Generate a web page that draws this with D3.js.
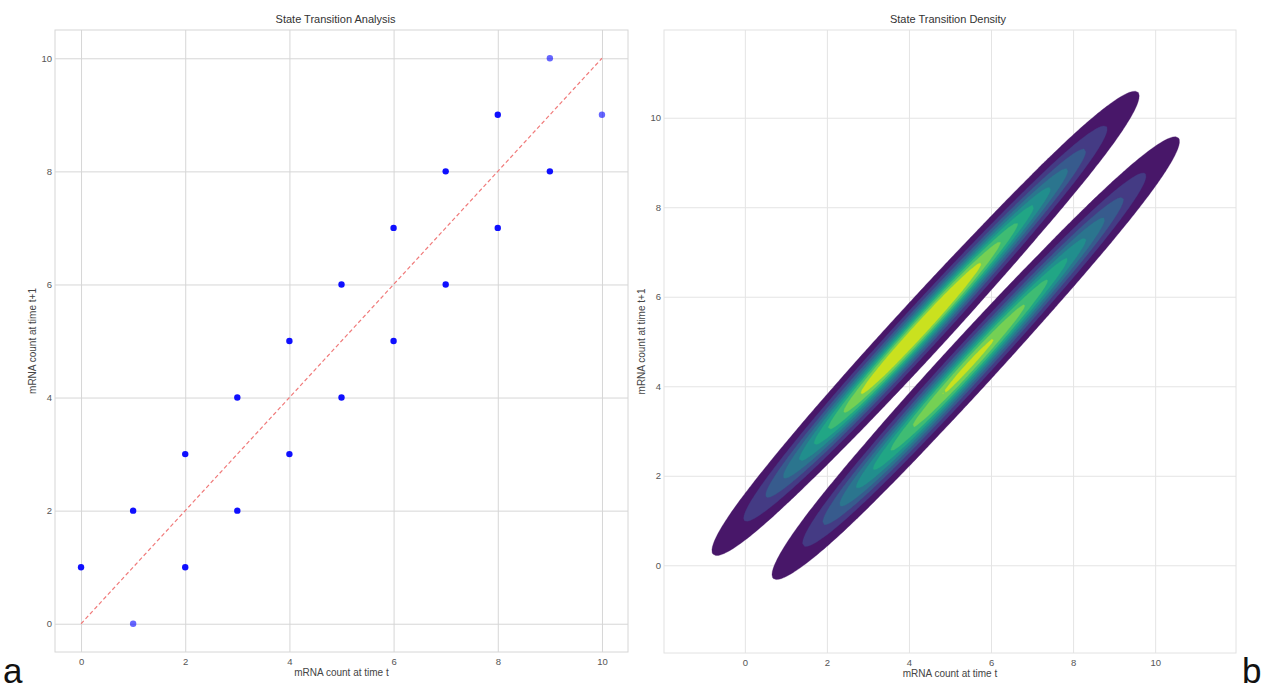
<!DOCTYPE html>
<html><head><meta charset="utf-8">
<script src="https://cdn.jsdelivr.net/npm/d3@7"></script>
<style>
body{margin:0;background:#fff}
svg{display:block}
text{font-family:"Liberation Sans",Arial,sans-serif}
</style>
</head><body>
<svg id="c" width="1271" height="691"></svg>
<script>
// ---- data ----
// up-transitions: state t -> state t+1
const upFrom  = [0, 1, 2, 3, 4, 5, 6, 7, 8, 9];
const upTo    = [1, 2, 3, 4, 5, 6, 7, 8, 9, 10];
// down-transitions: state t -> state t-1
const downFrom  = [1, 2, 3, 4, 5, 6, 7, 8, 9, 10];
const downTo    = [0, 1, 2, 3, 4, 5, 6, 7, 8, 9];
// occurrences shown in the scatter (1 = single, lighter dot)
const scatterUpCount   = [3, 3, 3, 3, 3, 3, 3, 3, 3, 1];
const scatterDownCount = [1, 3, 3, 3, 3, 3, 3, 3, 3, 1];
// transition counts behind the density panel
const densityUpCount   = [6, 14, 25, 35, 39, 38, 31, 22, 13, 4];
const densityDownCount = [2, 11, 21, 29, 34, 34, 28, 21, 12, 4];

const xTicks = [0, 2, 4, 6, 8, 10];
const yTicks = [0, 2, 4, 6, 8, 10];
const titles = ["State Transition Analysis", "State Transition Density"];
const xLabel = "mRNA count at time t";
const yLabel = "mRNA count at time t+1";
const panelLetters = ["a", "b"];
const diagonal = [0, 10];
const kdeLevels = 10, kdeThresh = 0.05, gridSize = 200;

// ---- build the pairs ----
const scatterPairs = [], densityPairs = [];
upFrom.forEach((t, i) => {
  scatterPairs.push({t, t1: upTo[i], n: scatterUpCount[i]});
  densityPairs.push({t, t1: upTo[i], n: densityUpCount[i]});
});
downFrom.forEach((t, i) => {
  scatterPairs.push({t, t1: downTo[i], n: scatterDownCount[i]});
  densityPairs.push({t, t1: downTo[i], n: densityDownCount[i]});
});

const svg = d3.select("#c");
const font = '"Liberation Sans",Arial,sans-serif';

function panel(cfg) {
  const g = svg.append("g");
  const x = d3.scaleLinear().domain(cfg.xd).range([cfg.l, cfg.r]);
  const y = d3.scaleLinear().domain(cfg.yd).range([cfg.b, cfg.t]);
  const clipId = "clip" + cfg.id;
  g.append("clipPath").attr("id", clipId).append("rect")
    .attr("x", cfg.l).attr("y", cfg.t).attr("width", cfg.r - cfg.l).attr("height", cfg.b - cfg.t);
  const xa = d3.axisBottom(x).tickValues(xTicks).tickSize(-(cfg.b - cfg.t)).tickPadding(6).tickFormat(d3.format("d"));
  const ya = d3.axisLeft(y).tickValues(yTicks).tickSize(-(cfg.r - cfg.l)).tickPadding(3).tickFormat(d3.format("d"));
  const gx = g.append("g").attr("transform", `translate(0,${cfg.b})`).call(xa);
  const gy = g.append("g").attr("transform", `translate(${cfg.l},0)`).call(ya);
  [gx, gy].forEach(a => {
    a.select(".domain").remove();
    a.selectAll(".tick line").attr("stroke", cfg.grid).attr("stroke-width", 1);
    a.selectAll(".tick text").attr("fill", "#555").style("font-size", "9.5px").style("font-family", font);
  });
  const plot = g.append("g").attr("clip-path", `url(#${clipId})`);
  g.append("text").attr("x", (cfg.l + cfg.r) / 2 + cfg.tdx).attr("y", cfg.t - 7).attr("text-anchor", "middle")
    .attr("fill", "#333").style("font-size", "11px").text(cfg.title);
  g.append("text").attr("x", (cfg.l + cfg.r) / 2).attr("y", cfg.b + 24).attr("text-anchor", "middle")
    .attr("fill", "#444").style("font-size", "10px").text(xLabel);
  g.append("text").attr("transform", `translate(${cfg.yl},${(cfg.t + cfg.b) / 2}) rotate(-90)`)
    .attr("text-anchor", "middle").attr("fill", "#444").style("font-size", "10px").text(yLabel);
  return {g, plot, x, y, frame: () => g.append("rect").attr("x", cfg.l).attr("y", cfg.t)
    .attr("width", cfg.r - cfg.l).attr("height", cfg.b - cfg.t).attr("fill", "none").attr("stroke", cfg.frameC).attr("stroke-width", 1)};
}

// ---- panel a: scatter ----
const A = panel({id: "a", l: 55, r: 628, t: 30, b: 652, xd: [-0.5, 10.5], yd: [-0.5, 10.5],
  title: titles[0], grid: "#d6d6d6", frameC: "#d6d6d6", yl: 36, tdx: -6});
A.plot.append("line")
  .attr("x1", A.x(diagonal[0])).attr("y1", A.y(diagonal[0]))
  .attr("x2", A.x(diagonal[1])).attr("y2", A.y(diagonal[1]))
  .attr("stroke", "#f07a7a").attr("stroke-width", 1.2).attr("stroke-dasharray", "4,2.6");
A.plot.selectAll("circle").data(scatterPairs).join("circle")
  .attr("cx", d => A.x(d.t)).attr("cy", d => A.y(d.t1)).attr("r", 3.2)
  .attr("fill", "#0000ff").attr("fill-opacity", d => 1 - Math.pow(0.4, d.n));
A.frame();

// ---- panel b: KDE density ----
const B = panel({id: "b", l: 664, r: 1236, t: 30, b: 653, xd: [-1.97, 11.97], yd: [-1.96, 11.96],
  title: titles[1], grid: "#e4e4e4", frameC: "#e2e2e2", yl: 645, tdx: -2});

(function kde() {
  const pairs = densityPairs;
  const N = d3.sum(pairs, d => d.n);
  const mx = d3.sum(pairs, d => d.n * d.t) / N, my = d3.sum(pairs, d => d.n * d.t1) / N;
  let sxx = 0, syy = 0, sxy = 0;
  pairs.forEach(d => { const a = d.t - mx, b = d.t1 - my; sxx += d.n * a * a; syy += d.n * b * b; sxy += d.n * a * b; });
  sxx /= (N - 1); syy /= (N - 1); sxy /= (N - 1);
  const f = Math.pow(N, -1 / 6);
  const kxx = sxx * f * f, kyy = syy * f * f, kxy = sxy * f * f;
  const det = kxx * kyy - kxy * kxy;
  const ixx = kyy / det, iyy = kxx / det, ixy = -kxy / det;
  const norm = 1 / (2 * Math.PI * Math.sqrt(det) * N);
  const [x0, x1] = B.x.domain(), [y0, y1] = B.y.domain();
  const n = gridSize, dx = (x1 - x0) / (n - 1), dy = (y1 - y0) / (n - 1);
  const vals = new Float64Array(n * n);
  for (let j = 0; j < n; j++) {
    const yy = y0 + j * dy;
    for (let i = 0; i < n; i++) {
      const xx = x0 + i * dx;
      let s = 0;
      for (const p of pairs) {
        const a = xx - p.t, b = yy - p.t1;
        s += p.n * Math.exp(-0.5 * (ixx * a * a + 2 * ixy * a * b + iyy * b * b));
      }
      vals[j * n + i] = s * norm;
    }
  }
  const sorted = Array.from(vals).sort((a, b) => b - a);
  const total = d3.sum(sorted);
  const cum = []; let c = 0;
  for (const v of sorted) { c += v; cum.push(c / total); }
  const qs = d3.range(kdeLevels).map(k => kdeThresh + k * (1 - kdeThresh) / (kdeLevels - 1));
  const levels = qs.map(q => { const idx = d3.bisectLeft(cum, 1 - q); return sorted[Math.min(idx, sorted.length - 1)]; })
    .sort((a, b) => a - b);
  const lo = levels[0], hi = levels[levels.length - 1];
  const bandThr = levels.slice(0, -1);
  const colors = bandThr.map((l, k) => d3.interpolateViridis(((l + levels[k + 1]) / 2 - lo) / (hi - lo)));
  const conts = d3.contours().size([n, n]).thresholds(bandThr)(vals);
  const proj = d3.geoTransform({point: function (gx, gy) {
    this.stream.point(B.x(x0 + (gx - 0.5) * dx), B.y(y0 + (gy - 0.5) * dy));
  }});
  const path = d3.geoPath(proj);
  B.plot.selectAll("path.band").data(conts).join("path").attr("class", "band")
    .attr("d", path).attr("fill", (d, k) => colors[k]).attr("stroke", (d, k) => colors[k]).attr("stroke-width", 0.3);
})();
B.frame();

// panel letters
svg.append("text").attr("x", 3).attr("y", 683).style("font-size", "35px").attr("fill", "#111").text(panelLetters[0]);
svg.append("text").attr("x", 1242).attr("y", 683).style("font-size", "35px").attr("fill", "#111").text(panelLetters[1]);
</script>
</body></html>
